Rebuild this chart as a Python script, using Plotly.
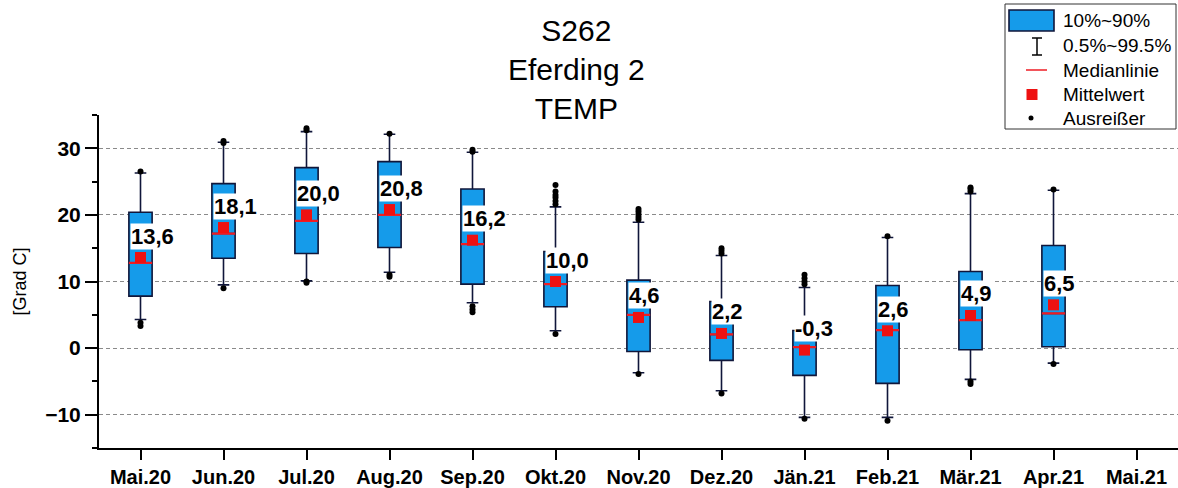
import plotly.graph_objects as go

# Monthly temperature distribution, station S262 Eferding 2
months = ["Mai.20", "Jun.20", "Jul.20", "Aug.20", "Sep.20", "Okt.20", "Nov.20",
          "Dez.20", "Jän.21", "Feb.21", "Mär.21", "Apr.21", "Mai.21"]
p10 = [7.8, 13.5, 14.2, 15.1, 9.6, 6.2, -0.5, -1.85, -4.1, -5.3, -0.25, 0.2]
p90 = [20.4, 24.7, 27.1, 28.0, 23.9, 14.5, 10.2, 7.0, 2.65, 9.4, 11.5, 15.4]
p005 = [4.3, 9.5, 10.1, 11.4, 6.8, 2.6, -3.7, -6.4, -10.4, -10.4, -4.7, -2.25]
p995 = [26.3, 30.9, 32.5, 32.1, 29.4, 21.2, 18.9, 13.9, 9.1, 16.6, 23.2, 23.7]
median = [12.8, 17.2, 19.1, 20.0, 15.6, 9.6, 5.0, 2.05, 0.15, 2.7, 4.2, 5.2]
mean = [13.6, 18.1, 20.0, 20.8, 16.2, 10.0, 4.6, 2.2, -0.3, 2.6, 4.9, 6.5]
outliers = [
    [26.5, 3.8, 3.3],
    [31.1, 30.8, 9.0],
    [33.0, 32.7, 10.0, 9.8],
    [32.2, 11.0, 10.7],
    [29.8, 29.5, 6.3, 5.8, 5.4],
    [21.6, 22.1, 22.6, 23.0, 23.5, 24.5, 2.1],
    [19.3, 19.7, 20.1, 20.5, 20.9, -3.9],
    [14.2, 14.6, 15.0, -6.8],
    [9.6, 10.0, 10.5, 11.0, -10.6],
    [16.8, -10.9],
    [23.5, 23.9, 24.1, -5.0, -5.4],
    [23.8, -2.4],
]
y_ticks = [-10, 0, 10, 20, 30]

FONT = "Liberation Sans, Arial, sans-serif"
BLUE = "#159BEA"
EDGE = "#10163a"
RED = "#ee1111"
MEDIAN_RED = "#ee1c24"
BOX_WIDTH = 0.28

W, H = 1178, 488
ML, MR, MT, MB = 99, 0, 115, 40

n = len(p10)
box_months = months[:n]

fig = go.Figure()

# 10%-90% boxes with 0.5%-99.5% whiskers
fig.add_trace(go.Box(
    x=box_months, q1=p10, median=median, q3=p90,
    lowerfence=p005, upperfence=p995, orientation="v",
    width=BOX_WIDTH, whiskerwidth=0.5, fillcolor=BLUE,
    line=dict(color=EDGE, width=1.6), boxpoints=False,
    hoverinfo="skip", showlegend=False,
))

# Median lines in red, drawn as flat boxes of the same width
fig.add_trace(go.Box(
    x=box_months, q1=median, median=median, q3=median,
    lowerfence=median, upperfence=median, orientation="v",
    width=BOX_WIDTH, whiskerwidth=1, fillcolor="rgba(0,0,0,0)",
    line=dict(color=MEDIAN_RED, width=2.2), boxpoints=False,
    hoverinfo="skip", showlegend=False,
))

# Outliers
ox, oy = [], []
for m, vals in zip(box_months, outliers):
    ox.extend([m] * len(vals))
    oy.extend(vals)
fig.add_trace(go.Scatter(
    x=ox, y=oy, mode="markers",
    marker=dict(symbol="circle", size=6, color="black"),
    hoverinfo="skip", showlegend=False,
))

# Means
fig.add_trace(go.Scatter(
    x=box_months, y=mean, mode="markers",
    marker=dict(symbol="square", size=11, color=RED),
    hoverinfo="skip", showlegend=False,
))

# Mean value labels
annotations = []
for m, v in zip(box_months, mean):
    annotations.append(dict(
        x=m, y=v, xref="x", yref="y", text=f"{v:.1f}".replace(".", ","),
        showarrow=False, xanchor="left", yanchor="bottom", xshift=-11, yshift=8,
        bgcolor="white", borderpad=0,
        font=dict(family=FONT, size=22, color="black", weight="bold"),
    ))

# Legend and title placed in pixel space
pw, ph = W - ML - MR, H - MT - MB


def px(x):
    return (x - ML) / pw


def py(y):
    return (H - MB - y) / ph


annotations.append(dict(
    x=px(576), y=py(12), xref="paper", yref="paper",
    text="S262<br>Eferding 2<br>TEMP", showarrow=False,
    xanchor="center", yanchor="top", align="center",
    font=dict(family=FONT, size=30, color="black"),
))

shapes = []
shapes.append(dict(type="rect", xref="paper", yref="paper", x0=px(1005), x1=px(1176),
                   y0=py(129), y1=py(4), line=dict(color="#333333", width=1),
                   fillcolor="white", layer="above"))
shapes.append(dict(type="rect", xref="paper", yref="paper", x0=px(1009), x1=px(1054),
                   y0=py(31), y1=py(10), line=dict(color=EDGE, width=1.6),
                   fillcolor=BLUE, layer="above"))
shapes.append(dict(type="line", xref="paper", yref="paper", x0=px(1037), x1=px(1037),
                   y0=py(55), y1=py(38), line=dict(color="black", width=1.5), layer="above"))
for yy in (38, 55):
    shapes.append(dict(type="line", xref="paper", yref="paper", x0=px(1032), x1=px(1042),
                       y0=py(yy), y1=py(yy), line=dict(color="black", width=1.5), layer="above"))
shapes.append(dict(type="line", xref="paper", yref="paper", x0=px(1026), x1=px(1047),
                   y0=py(70), y1=py(70), line=dict(color=MEDIAN_RED, width=1.5), layer="above"))
shapes.append(dict(type="rect", xref="paper", yref="paper", x0=px(1026.5), x1=px(1037.5),
                   y0=py(100), y1=py(89), line=dict(width=0), fillcolor=RED, layer="above"))
shapes.append(dict(type="circle", xref="paper", yref="paper", x0=px(1028.5), x1=px(1033.5),
                   y0=py(120.5), y1=py(115.5), line=dict(width=0), fillcolor="black", layer="above"))

legend_items = [("10%~90%", 21), ("0.5%~99.5%", 46), ("Medianlinie", 70),
                ("Mittelwert", 94), ("Ausreißer", 118)]
for label, yy in legend_items:
    annotations.append(dict(
        x=px(1061), y=py(yy), xref="paper", yref="paper", text=label,
        showarrow=False, xanchor="left", yanchor="middle",
        font=dict(family=FONT, size=19, color="black"),
    ))

fig.update_layout(
    width=W, height=H,
    margin=dict(l=ML, r=MR, t=MT, b=MB, autoexpand=False),
    paper_bgcolor="white", plot_bgcolor="white",
    boxmode="overlay",
    shapes=shapes,
    annotations=annotations,
    showlegend=False,
)

fig.update_xaxes(
    type="category", categoryorder="array", categoryarray=months,
    range=[-0.5, len(months) - 0.5],
    showline=True, linecolor="black", linewidth=2,
    ticks="outside", ticklen=10, tickwidth=2, tickcolor="black",
    tickfont=dict(family=FONT, size=20, color="black", weight="bold"),
    showgrid=False, zeroline=False, fixedrange=True,
)

fig.update_yaxes(
    range=[-15, 35], tickvals=y_ticks,
    showline=True, linecolor="black", linewidth=2,
    ticks="outside", ticklen=12, tickwidth=2, tickcolor="black",
    tickfont=dict(family=FONT, size=21, color="black", weight="bold"),
    minor=dict(dtick=5, tick0=0, ticks="outside", ticklen=5, tickwidth=2,
               tickcolor="black", showgrid=False),
    showgrid=True, gridcolor="#8a8a8a", gridwidth=1, griddash="4px,3px",
    zeroline=False,
    title=dict(text="[Grad C]", standoff=14,
               font=dict(family=FONT, size=18, color="black")),
    fixedrange=True,
)

fig.write_html("out.html")
